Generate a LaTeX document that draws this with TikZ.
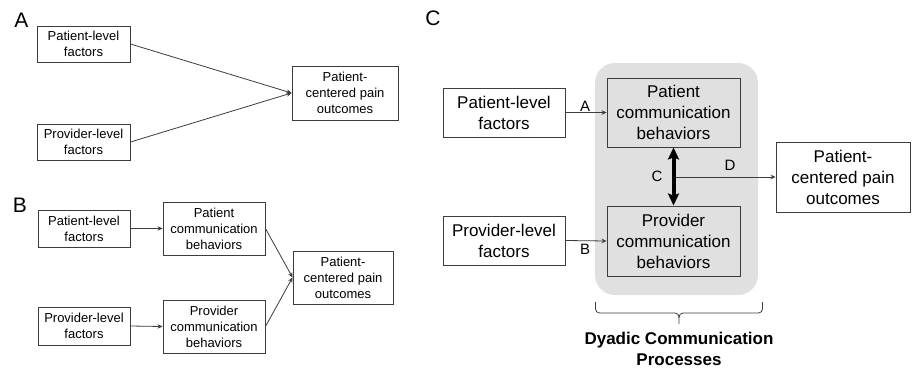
\documentclass[tikz,border=0pt]{standalone}
\usepackage{fontspec}
\setmainfont{Liberation Sans}
\usetikzlibrary{arrows.meta}
\definecolor{panelgray}{RGB}{224,224,224}
\definecolor{linegray}{RGB}{60,60,60}
\begin{document}
\begin{tikzpicture}[x=1pt,y=-1pt,
 box/.style={draw=linegray, line width=0.9pt, align=center, inner sep=0pt, font=\fontsize{13}{16}\selectfont},
 bigbox/.style={box, font=\fontsize{17}{21}\selectfont},
 arr/.style={draw=linegray, line width=0.8pt, -{Stealth[length=5pt,width=4.5pt]}},
 lab/.style={font=\fontsize{15}{18}\selectfont, inner sep=0pt},
 panel/.style={font=\fontsize{21}{24}\selectfont, inner sep=0pt}]
\fill[white] (0,0) rectangle (916,370);
\useasboundingbox (0,0) rectangle (916,370);

% Panel A
\node[panel] (pA) at (21.5,20) {A};
\node[box, minimum width=93, minimum height=36] (aplf) at (83.5,44) {Patient-level\\factors};
\node[box, minimum width=93, minimum height=36] (apvlf) at (83.5,142) {Provider-level\\factors};
\node[box, minimum width=106, minimum height=54] (aout) at (345,93) {Patient-\\centered pain\\outcomes};
\draw[arr] (aplf.east) -- (aout.west);
\draw[arr] (apvlf.east) -- (aout.west);

% Panel B
\node[panel] (pB) at (20,205.5) {B};
\node[box, minimum width=92, minimum height=37] (bplf) at (84,228.5) {Patient-level\\factors};
\node[box, minimum width=102, minimum height=53] (bpcb) at (214,228.5) {Patient\\communication\\behaviors};
\node[box, minimum width=100, minimum height=53] (bout) at (343,277.5) {Patient-\\centered pain\\outcomes};
\node[box, minimum width=92, minimum height=38] (bpvlf) at (84,326) {Provider-level\\factors};
\node[box, minimum width=102, minimum height=53] (bvcb) at (214,326.5) {Provider\\communication\\behaviors};
\draw[arr] (bplf.east) -- (bpcb.west);
\draw[arr] (bpvlf.east) -- (bvcb.west);
\draw[arr] (bpcb.east) -- (bout.west);
\draw[arr] (bvcb.east) -- (bout.west);

% Panel C
\node[panel] (pC) at (433,18) {C};
\fill[panelgray, rounded corners=20pt] (595,63) rectangle (758,295);
\node[bigbox, minimum width=122, minimum height=49] (cplf) at (504,112.5) {Patient-level\\factors};
\node[bigbox, minimum width=133, minimum height=69] (cpcb) at (673.5,112.5) {Patient\\communication\\behaviors};
\node[bigbox, minimum width=122, minimum height=49] (cpvlf) at (504,240.5) {Provider-level\\factors};
\node[bigbox, minimum width=133, minimum height=70] (cvcb) at (673.5,241) {Provider\\communication\\behaviors};
\node[bigbox, minimum width=134, minimum height=70] (cout) at (843,177) {Patient-\\centered pain\\outcomes};
\coordinate (cmid) at (673.5,177);
\draw[arr] (cplf.east) -- (cpcb.west);
\draw[arr] (cpvlf.east) -- (cvcb.west);
\draw[arr] (cmid) -- (cout.west);
\draw[black, line width=4pt, {Stealth[length=12pt,width=11pt,inset=2pt]}-{Stealth[length=12pt,width=11pt,inset=2pt]}] (cpcb.south) -- (cvcb.north);
\node[lab] (lA) at (585,106) {A};
\node[lab] (lB) at (585,249) {B};
\node[lab] (lC) at (657,176) {C};
\node[lab] (lD) at (730,165) {D};
\draw[linegray, line width=0.8pt, rounded corners=4pt] (595.5,302) -- (595.5,313) -- (679,313) -- (679,324);
\draw[linegray, line width=0.8pt, rounded corners=4pt] (679,318) -- (679,313) -- (762.5,313) -- (762.5,302);
\node[font=\fontsize{17}{21}\selectfont\bfseries, align=center, inner sep=0pt] (dy) at (679,349) {Dyadic Communication\\Processes};
\end{tikzpicture}
\end{document}
